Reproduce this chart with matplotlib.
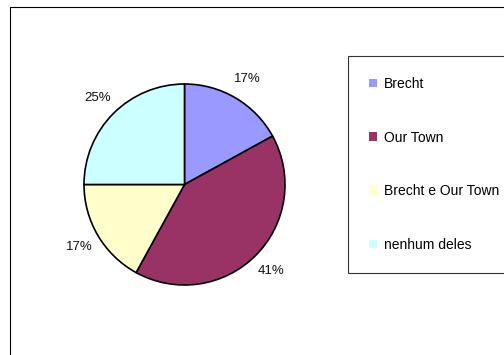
import matplotlib
matplotlib.use("Agg")
import matplotlib.pyplot as plt
from matplotlib.patches import Patch, Rectangle

plt.rcParams["font.family"] = ["Liberation Sans", "DejaVu Sans"]

# ============================================================================
# DATA
# ============================================================================

categories = ["Brecht", "Our Town", "Brecht e Our Town", "nenhum deles"]
shares = [17, 41, 17, 25]
colors = ["#9999FF", "#993366", "#FFFFCC", "#CCFFFF"]

# ============================================================================
# PLOT
# ============================================================================

W, H = 504, 355
fig = plt.figure(figsize=(W / 100, H / 100), dpi=100)

# outer chart-area border (cut off at right and bottom like the original)
fig.patches.append(Rectangle((10 / W, -0.05), 1.1, 1 - 7 / H + 0.05,
                             transform=fig.transFigure, fill=False,
                             edgecolor="#000000", linewidth=0.8))

# pie axes: centre at (184.5, 184) px, radius ~100.5 px
r_px = 100.5
half = 1.3 * r_px
cx, cy = 184.5, H - 184.5
ax = fig.add_axes([(cx - half) / W, (cy - half) / H, 2 * half / W, 2 * half / H])

wedges, _, pct_texts = ax.pie(
    shares, colors=colors, startangle=90, counterclock=False,
    autopct=lambda p: f"{p:.0f}%", pctdistance=1.22,
    wedgeprops=dict(edgecolor="black", linewidth=1.2),
    textprops=dict(fontsize=9.5, color="#111111"),
)
ax.set_xlim(-1.3, 1.3)
ax.set_ylim(-1.3, 1.3)
ax.set_aspect("equal")

handles = [Patch(facecolor=c, edgecolor="none") for c in colors]
leg = fig.legend(
    handles, categories, loc="upper left",
    bbox_to_anchor=(348 / W, 1 - 56 / H, 0.5, 0.0), mode="expand",
    fontsize=10, frameon=True, fancybox=False, borderpad=1.5,
    labelspacing=2.86, handlelength=0.58, handleheight=0.58,
    handletextpad=0.5, borderaxespad=0.0,
)
leg.get_frame().set_edgecolor("#000000")
leg.get_frame().set_linewidth(0.8)

fig.savefig("out.png", dpi=100)
plt.close(fig)
